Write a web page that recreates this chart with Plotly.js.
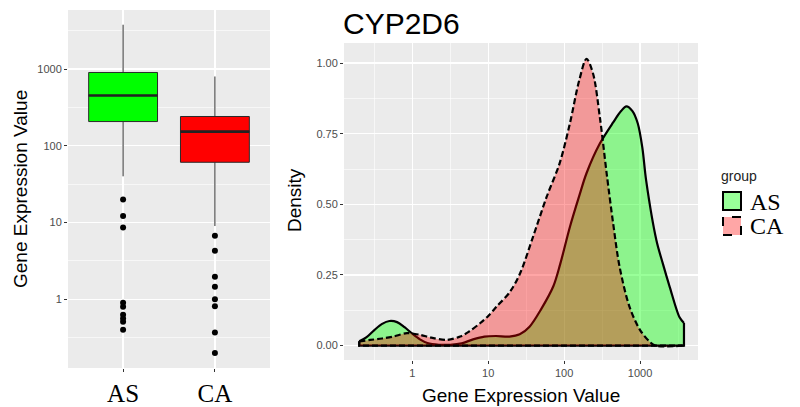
<!DOCTYPE html>
<html>
<head>
<meta charset="utf-8">
<script src="https://cdn.plot.ly/plotly-3.0.1.min.js"></script>
<style>html,body{margin:0;padding:0;background:#fff}#chart{width:800px;height:407px}</style>
</head>
<body>
<div id="chart"></div>
<script>
// ---- Box plot data (left panel) ----
var groups = ['AS', 'CA'];
var boxQ1 = [207, 61];
var boxMedian = [453, 153];
var boxQ3 = [903, 241];
var boxLower = [40, 9.0];
var boxUpper = [3787, 801];
var outliersAS = [20, 12.2, 8.6, 0.90, 0.80, 0.63, 0.56, 0.51, 0.40];
var outliersCA = [6.7, 4.3, 1.97, 1.46, 1.0, 0.81, 0.37, 0.20];
var boxFills = ['#00FF00', '#FF0000'];

// ---- Density data (right panel) ----
var asX = [0.2, 0.25, 0.316, 0.4, 0.5, 0.63, 0.79, 1.0, 1.26, 1.58, 2.24, 3.16, 4.47, 6.3, 8.9, 12.6, 19, 26, 35, 50, 72, 89, 119, 158, 197, 295, 442, 562, 660, 794, 933, 1072, 1202, 1641, 1995, 2455, 3311, 3787];
var asY = [0.015, 0.03, 0.055, 0.077, 0.087, 0.083, 0.065, 0.042, 0.022, 0.009, 0.003, 0.003, 0.008, 0.022, 0.032, 0.034, 0.032, 0.04, 0.067, 0.13, 0.21, 0.29, 0.42, 0.53, 0.61, 0.715, 0.79, 0.83, 0.847, 0.83, 0.786, 0.70, 0.585, 0.373, 0.29, 0.208, 0.10, 0.08];
var caX = [0.2, 0.28, 0.4, 0.56, 0.85, 1.26, 1.78, 2.82, 4.27, 5.6, 7.8, 10, 12.9, 19.3, 26.3, 38.9, 58.9, 87.1, 119, 158, 197, 240, 295, 363, 442, 537, 724, 1000, 1334, 1585, 3787];
var caY = [0.015, 0.02, 0.025, 0.032, 0.044, 0.038, 0.028, 0.02, 0.032, 0.05, 0.079, 0.105, 0.138, 0.19, 0.256, 0.385, 0.527, 0.645, 0.786, 0.939, 1.015, 0.963, 0.809, 0.609, 0.432, 0.279, 0.138, 0.055, 0.014, 0.0, 0.0];

var logTicks = [1, 10, 100, 1000];
var logTickText = ['1', '10', '100', '1000'];
var logMinor = [0.316, 3.16, 31.6, 316, 3162];
var densTicks = [0, 0.25, 0.5, 0.75, 1.0];
var densTickText = ['0.00', '0.25', '0.50', '0.75', '1.00'];
var densMinor = [0.125, 0.375, 0.625, 0.875];

var traces = [];
groups.forEach(function (g, i) {
  traces.push({
    type: 'box', x: [g], q1: [boxQ1[i]], median: [boxMedian[i]], q3: [boxQ3[i]],
    lowerfence: [boxLower[i]], upperfence: [boxUpper[i]], width: 0.75, whiskerwidth: 0,
    fillcolor: boxFills[i], line: { color: '#2a2a2a', width: 1 }, boxpoints: false,
    xaxis: 'x', yaxis: 'y', showlegend: false, hoverinfo: 'skip'
  });
  traces.push({
    type: 'box', x: [g], q1: [boxMedian[i]], median: [boxMedian[i]], q3: [boxMedian[i]],
    lowerfence: [boxMedian[i]], upperfence: [boxMedian[i]], width: 0.75, whiskerwidth: 0,
    fillcolor: 'rgba(0,0,0,0)', line: { color: '#222222', width: 2.6 }, boxpoints: false,
    xaxis: 'x', yaxis: 'y', showlegend: false, hoverinfo: 'skip'
  });
});
traces.push({
  type: 'scatter', mode: 'markers', x: outliersAS.map(function () { return 'AS'; }), y: outliersAS,
  marker: { color: '#000', size: 6 }, xaxis: 'x', yaxis: 'y', showlegend: false
});
traces.push({
  type: 'scatter', mode: 'markers', x: outliersCA.map(function () { return 'CA'; }), y: outliersCA,
  marker: { color: '#000', size: 6 }, xaxis: 'x', yaxis: 'y', showlegend: false
});

function densityTraces(xs, ys, fill, dash, name) {
  var n = xs.length;
  return [
    { type: 'scatter', mode: 'lines', x: xs, y: ys, fill: 'tozeroy', fillcolor: fill,
      line: { color: '#000', width: 2.2, dash: dash, shape: 'spline', smoothing: 0.9 },
      xaxis: 'x2', yaxis: 'y2', showlegend: false, name: name },
    { type: 'scatter', mode: 'lines', x: [xs[n - 1], xs[n - 1], xs[0], xs[0]], y: [ys[n - 1], 0, 0, ys[0]],
      line: { color: '#000', width: 2.2, dash: dash }, xaxis: 'x2', yaxis: 'y2', showlegend: false, hoverinfo: 'skip' }
  ];
}
traces = traces.concat(densityTraces(asX, asY, 'rgba(0,255,0,0.4)', 'solid', 'AS'));
traces = traces.concat(densityTraces(caX, caY, 'rgba(255,0,0,0.35)', '6px,3px', 'CA'));

var tickFont = { family: 'Liberation Sans, Arial, sans-serif', size: 11, color: '#4D4D4D' };
var titleFont = { family: 'Liberation Sans, Arial, sans-serif', size: 19, color: '#000' };
var serifFont = { family: 'Liberation Serif, Times New Roman, serif', size: 25, color: '#000' };

function px(x) { return x / 800; }
function py(y) { return 1 - y / 407; }

var layout = {
  width: 800, height: 407,
  margin: { l: 0, r: 0, t: 0, b: 0 },
  paper_bgcolor: '#FFFFFF', plot_bgcolor: '#EBEBEB',
  showlegend: false,
  title: { text: 'CYP2D6', x: px(343), xanchor: 'left', xref: 'paper', y: py(23), yanchor: 'middle',
    font: { family: 'Liberation Sans, Arial, sans-serif', size: 30, color: '#000' } },
  xaxis: {
    domain: [px(68), px(270)], type: 'category', categoryorder: 'array', categoryarray: groups,
    range: [-0.6, 1.6], showgrid: true, gridcolor: '#FFFFFF', gridwidth: 1.2, zeroline: false,
    ticks: 'outside', ticklen: 3, tickcolor: '#333', tickfont: serifFont, showline: false, anchor: 'y'
  },
  yaxis: {
    domain: [1 - 368 / 407, 1 - 10 / 407], type: 'log', range: [-0.896, 3.77],
    tickvals: logTicks, ticktext: logTickText, tickfont: tickFont, ticks: 'outside', ticklen: 3, tickcolor: '#333',
    showgrid: true, gridcolor: '#FFFFFF', gridwidth: 1.2, zeroline: false, showline: false, anchor: 'x',
    minor: { tickvals: logMinor, showgrid: true, gridcolor: '#FFFFFF', gridwidth: 0.6, ticks: '' }
  },
  xaxis2: {
    domain: [px(344), px(698)], type: 'log', range: [-0.9, 3.763],
    tickvals: logTicks, ticktext: logTickText, tickfont: tickFont, ticks: 'outside', ticklen: 3, tickcolor: '#333',
    showgrid: true, gridcolor: '#FFFFFF', gridwidth: 1.2, zeroline: false, showline: false, anchor: 'y2',
    minor: { tickvals: logMinor, showgrid: true, gridcolor: '#FFFFFF', gridwidth: 0.6, ticks: '' }
  },
  yaxis2: {
    domain: [1 - 360 / 407, 1 - 43 / 407], range: [-0.051, 1.071],
    tickvals: densTicks, ticktext: densTickText, tickfont: tickFont, ticks: 'outside', ticklen: 3, tickcolor: '#333',
    showgrid: true, gridcolor: '#FFFFFF', gridwidth: 1.2, zeroline: false, showline: false, anchor: 'x2',
    minor: { tickvals: densMinor, showgrid: true, gridcolor: '#FFFFFF', gridwidth: 0.6, ticks: '' }
  },
  annotations: [
    { text: 'Gene Expression Value', xref: 'paper', yref: 'paper', x: px(20), y: py(189), textangle: -90,
      xanchor: 'center', yanchor: 'middle', showarrow: false, font: titleFont },
    { text: 'Density', xref: 'paper', yref: 'paper', x: px(294), y: py(200), textangle: -90,
      xanchor: 'center', yanchor: 'middle', showarrow: false, font: titleFont },
    { text: 'Gene Expression Value', xref: 'paper', yref: 'paper', x: px(521), y: py(395),
      xanchor: 'center', yanchor: 'middle', showarrow: false, font: titleFont },
    { text: 'group', xref: 'paper', yref: 'paper', x: px(719), y: py(176),
      xanchor: 'left', yanchor: 'middle', showarrow: false,
      font: { family: 'Liberation Sans, Arial, sans-serif', size: 14, color: '#222' } },
    { text: groups[0], xref: 'paper', yref: 'paper', x: px(748), y: py(202),
      xanchor: 'left', yanchor: 'middle', showarrow: false, font: { family: serifFont.family, size: 24, color: '#000' } },
    { text: groups[1], xref: 'paper', yref: 'paper', x: px(748), y: py(226),
      xanchor: 'left', yanchor: 'middle', showarrow: false, font: { family: serifFont.family, size: 24, color: '#000' } }
  ],
  shapes: [
    { type: 'rect', xref: 'paper', yref: 'paper', x0: px(723), x1: px(741), y0: py(210), y1: py(192),
      fillcolor: 'rgba(0,255,0,0.4)', line: { color: '#000', width: 2 } },
    { type: 'rect', xref: 'paper', yref: 'paper', x0: px(723), x1: px(741), y0: py(235), y1: py(217),
      fillcolor: 'rgba(255,0,0,0.35)', line: { color: '#000', width: 2, dash: 'dash' } }
  ]
};

Plotly.newPlot('chart', traces, layout, { staticPlot: true, displayModeBar: false });
</script>
</body>
</html>
